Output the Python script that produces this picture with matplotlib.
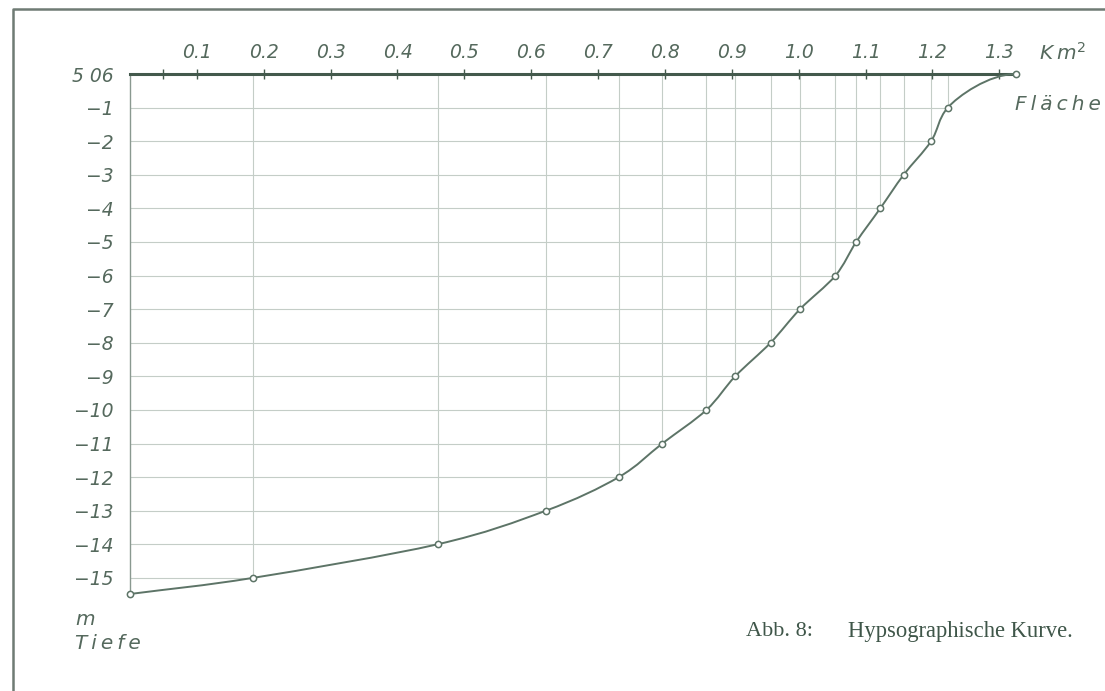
import matplotlib
matplotlib.use("Agg")
import numpy as np
import matplotlib.pyplot as plt
from matplotlib.path import Path
from matplotlib.patches import PathPatch
from matplotlib.lines import Line2D

# hypsographic curve: lake area (km^2) at each depth (m below 506 m)
depth = [0, -1, -2, -3, -4, -5, -6, -7, -8, -9, -10, -11, -12, -13, -14, -15, -15.48]
area = [1.325, 1.223, 1.198, 1.157, 1.122, 1.086, 1.055, 1.002, 0.958, 0.905,
        0.862, 0.796, 0.731, 0.622, 0.460, 0.184, 0.0]

x_ticks = [0.1, 0.2, 0.3, 0.4, 0.5, 0.6, 0.7, 0.8, 0.9, 1.0, 1.1, 1.2, 1.3]
x_labels = ["0.1", "0.2", "0.3", "0.4", "0.5", "0.6", "0.7", "0.8", "0.9",
            "1.0", "1.1", "1.2", "1.3"]
y_ticks = [0, -1, -2, -3, -4, -5, -6, -7, -8, -9, -10, -11, -12, -13, -14, -15]
y_labels = ["5 06"] + ["\u2212%d" % d for d in range(1, 16)]

INK = "#55695d"
LINE = "#5d7467"
GRID = "#c4cdc7"
FONT = dict(family="DejaVu Sans", style="italic")

fig = plt.figure(figsize=(11.05, 6.91), dpi=100)
W, H = 1105, 691
ax = fig.add_axes([130 / W, 1 - 594 / H, 886 / W, 520 / H])
ax.set_xlim(0, area[0])
ax.set_ylim(depth[-1], 0)

# grid: each depth line runs out to the curve, each area line up to the top
ax.hlines(depth[1:-1], 0, area[1:-1], color=GRID, lw=0.8, zorder=1)
ax.vlines(area[1:-1], depth[1:-1], 0, color=GRID, lw=0.8, zorder=1)

# smooth pen line through the measured points (cubic Bezier pieces);
# near the surface it runs out flat into the 506 m line
P = np.column_stack([area, depth])[::-1]
n = len(P)
tang = np.zeros_like(P)
tang[0] = P[1] - P[0]
tang[1:-1] = (P[2:] - P[:-2]) / 2
tang[-2] = ((P[-2] - P[-3]) + (P[-1] - P[-3]) / 2) / 2
tang[-1] = [(P[-1, 0] - P[-2, 0]) * 1.2, 0.0]
verts = [P[0]]
codes = [Path.MOVETO]
for i in range(n - 1):
    verts += [P[i] + tang[i] / 3, P[i + 1] - tang[i + 1] / 3, P[i + 1]]
    codes += [Path.CURVE4] * 3
ax.add_patch(PathPatch(Path(verts, codes), fill=False, ec=LINE, lw=1.4,
                       zorder=3, clip_on=False))
ax.plot(area, depth, "o", ms=4.5, mfc="white", mec=LINE, mew=1.1,
        zorder=4, clip_on=False)

for s in ("right", "bottom"):
    ax.spines[s].set_visible(False)
ax.spines["top"].set_color("#43594c")
ax.spines["top"].set_linewidth(2.2)
ax.spines["left"].set_color("#8a9990")
ax.spines["left"].set_linewidth(1.0)

ax.xaxis.tick_top()
ax.set_xticks(x_ticks)
ax.set_xticks([0.05], minor=True)
ax.set_xticklabels(x_labels, fontsize=13.5, color=INK, **FONT)
ax.tick_params(axis="x", which="both", direction="inout", length=7, width=1,
               color="#43594c", pad=5)
ax.set_yticks(y_ticks)
ax.set_yticklabels(y_labels, fontsize=13.5, color=INK, **FONT)
ax.tick_params(axis="y", length=0, pad=12)

ax.text(1.36, 0.62, "K\u2009m$^{2}$", fontsize=14.5, color=INK, ha="left",
        va="center", clip_on=False, **FONT)
ax.text(1.324, -0.9, "F\u2009l\u2009ä\u2009c\u2009h\u2009e", fontsize=14.5,
        color=INK, ha="left", va="center", clip_on=False, **FONT)
ax.text(-0.082, -16.25, "m", fontsize=14.5, color=INK, ha="left",
        va="center", clip_on=False, **FONT)
ax.text(-0.082, -16.95, "T\u2009i\u2009e\u2009f\u2009e", fontsize=14.5,
        color=INK, ha="left", va="center", clip_on=False, **FONT)

fig.text(746 / W, 1 - 632 / H, "Abb. 8:", fontsize=16, color="#3f5649",
         family="Liberation Serif", ha="left", va="center")
fig.text(848 / W, 1 - 632 / H, "Hypsographische Kurve.", fontsize=16.3,
         color="#3f5649", family="Liberation Serif", ha="left", va="center")

# page frame (left and top edge)
fig.add_artist(Line2D([13 / W, 13 / W, 1], [0, 1 - 9 / H, 1 - 9 / H],
                      color="#6f7b74", lw=1.8))

fig.savefig("out.png", dpi=100)
